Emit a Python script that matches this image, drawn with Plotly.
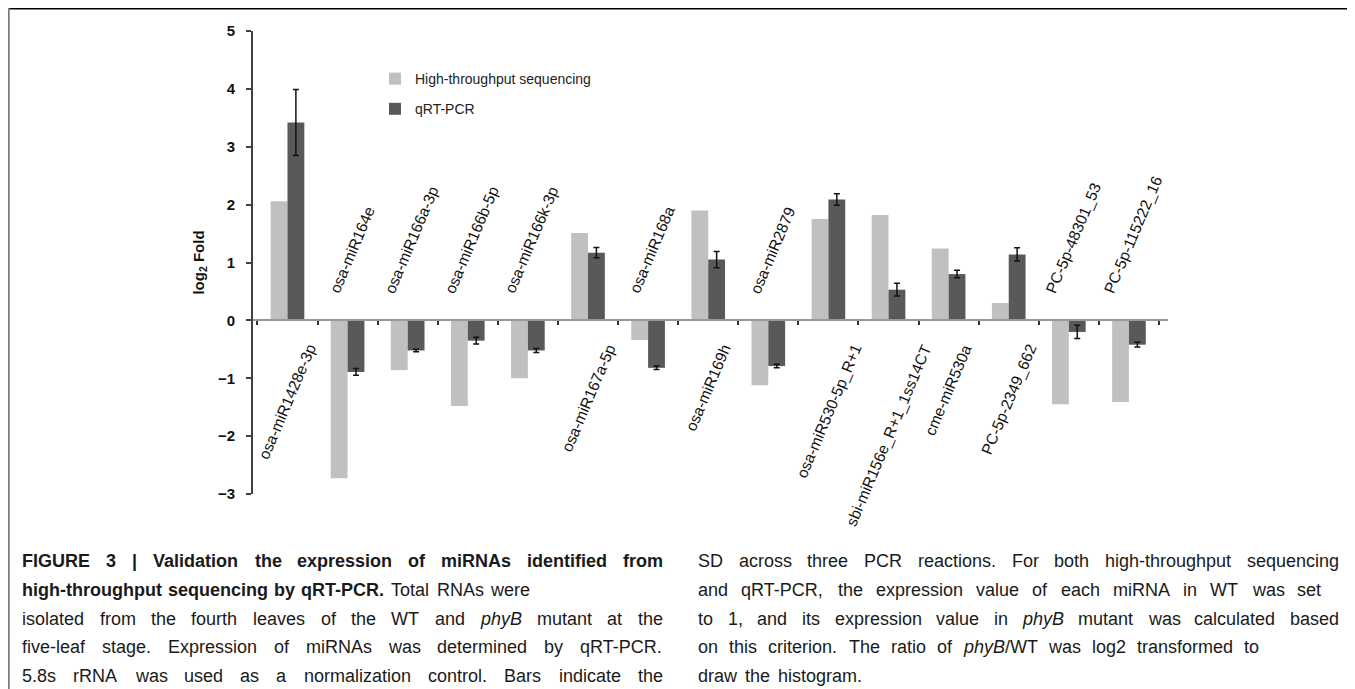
import plotly.graph_objects as go

categories = ["osa-miR1428e-3p", "osa-miR164e", "osa-miR166a-3p", "osa-miR166b-5p",
              "osa-miR166k-3p", "osa-miR167a-5p", "osa-miR168a", "osa-miR169h",
              "osa-miR2879", "osa-miR530-5p_R+1", "sbi-miR156e_R+1_1ss14CT",
              "cme-miR530a", "PC-5p-2349_662", "PC-5p-48301_53", "PC-5p-115222_16"]
hts_values = [2.06, -2.73, -0.86, -1.48, -1.00, 1.51, -0.34, 1.90, -1.12, 1.75, 1.82,
              1.24, 0.30, -1.45, -1.41]
qrt_values = [3.42, -0.89, -0.52, -0.35, -0.52, 1.17, -0.82, 1.05, -0.79, 2.09, 0.53,
              0.80, 1.14, -0.20, -0.42]
qrt_sd = [0.57, 0.06, 0.02, 0.06, 0.035, 0.09, 0.03, 0.14, 0.03, 0.10, 0.11, 0.065,
          0.115, 0.115, 0.04]
y_ticks = [-3, -2, -1, 0, 1, 2, 3, 4, 5]
series_names = ["High-throughput sequencing", "qRT-PCR"]

# page offset: browser body margin of 8px
OFF = 8
W, H = 1355 - OFF, 689 - OFF
L, R, T, B = 245, 187, 23, 195
PW, PH = W - L - R, H - T - B
Y0, Y1 = -3, 5


def px(x):
    return (x - OFF - L) / PW


def py(y):
    return (H - B - (y - OFF)) / PH


fig = go.Figure()
fig.add_trace(go.Bar(x=categories, y=hts_values, name=series_names[0], legendgroup="a",
                     marker=dict(color="#c0c0c0", line=dict(width=0))))
fig.add_trace(go.Bar(x=categories, y=qrt_values, name=series_names[1], legendgroup="b",
                     marker=dict(color="#595959", line=dict(width=0)),
                     error_y=dict(type="data", array=qrt_sd, color="#111111",
                                  thickness=1.5, width=3)))

label_font = dict(family="Liberation Sans, Arial", size=15.5, color="#111111")
for cat, h, q in zip(categories, hts_values, qrt_values):
    neg = max(h, q) <= 0
    if neg:
        fig.add_annotation(x=cat, y=0, xref="x", yref="y", text=cat, showarrow=False,
                           textangle=-67, yanchor="bottom", xanchor="center",
                           yshift=22, xshift=4, font=label_font)
    else:
        fig.add_annotation(x=cat, y=0, xref="x", yref="y", text=cat, showarrow=False,
                           textangle=-67, yanchor="top", xanchor="center",
                           yshift=-19, xshift=0, font=label_font)

zero_pos = (0 - Y0) / (Y1 - Y0)

fig.update_layout(
    width=W, height=H,
    margin=dict(l=L, r=R, t=T, b=B, pad=0),
    paper_bgcolor="white", plot_bgcolor="white",
    barmode="group", bargap=0.44, bargroupgap=0,
    showlegend=True,
    legend=dict(x=px(375), y=py(63), xanchor="left", yanchor="top",
                font=dict(family="Liberation Sans, Arial", size=14, color="#222222"),
                bgcolor="rgba(0,0,0,0)", tracegroupgap=9, traceorder="grouped"),
    xaxis=dict(type="category", showticklabels=False, showgrid=False, zeroline=False,
               showline=True, linecolor="#999999", linewidth=1.5,
               anchor="free", position=zero_pos,
               ticks="outside", tickson="boundaries", ticklen=4, tickcolor="#333333",
               tickwidth=1.5),
    yaxis=dict(range=[Y0, Y1], tickvals=y_ticks, showgrid=False, zeroline=False,
               showline=True, linecolor="#404040", linewidth=1.8,
               ticks="outside", ticklen=5, tickcolor="#404040", tickwidth=1.5,
               ticklabelstandoff=8,
               tickfont=dict(family="Liberation Sans, Arial", size=15, color="#111111",
                             weight="bold"),
               title=dict(text="<b>log<sub>2</sub> Fold</b>", standoff=10,
                          font=dict(family="Liberation Sans, Arial", size=15,
                                    color="#111111"))),
)

# frame lines (top and left)
fig.add_shape(type="line", xref="paper", yref="paper", x0=px(8), x1=px(1355 + 5),
              y0=py(8.8), y1=py(8.8), line=dict(color="#000000", width=1.6))
fig.add_shape(type="line", xref="paper", yref="paper", x0=px(8.8), x1=px(8.8),
              y0=py(8), y1=py(689), line=dict(color="#7a7a7a", width=1.8))

# ---- caption, justified word by word using Arial/Helvetica metrics ----
REG = {' ': 278, '!': 278, '"': 355, '#': 556, '$': 556, '%': 889, '&': 667, "'": 191,
       '(': 333, ')': 333, '*': 389, '+': 584, ',': 278, '-': 333, '.': 278, '/': 278,
       ':': 278, ';': 278, '<': 584, '=': 584, '>': 584, '?': 556, '@': 1015, '|': 260,
       '_': 556,
       'A': 667, 'B': 667, 'C': 722, 'D': 722, 'E': 667, 'F': 611, 'G': 778, 'H': 722,
       'I': 278, 'J': 500, 'K': 667, 'L': 556, 'M': 833, 'N': 722, 'O': 778, 'P': 667,
       'Q': 778, 'R': 722, 'S': 667, 'T': 611, 'U': 722, 'V': 667, 'W': 944, 'X': 667,
       'Y': 667, 'Z': 611,
       'a': 556, 'b': 556, 'c': 500, 'd': 556, 'e': 556, 'f': 278, 'g': 556, 'h': 556,
       'i': 222, 'j': 222, 'k': 500, 'l': 222, 'm': 833, 'n': 556, 'o': 556, 'p': 556,
       'q': 556, 'r': 333, 's': 500, 't': 278, 'u': 556, 'v': 500, 'w': 722, 'x': 500,
       'y': 500, 'z': 500}
BOLD = dict(REG)
BOLD.update({'!': 333, '|': 280, 'A': 722, 'B': 722, 'J': 556, 'K': 722, 'L': 611,
             'b': 611, 'c': 556, 'd': 611, 'f': 333, 'g': 611, 'h': 611, 'i': 278,
             'j': 278, 'k': 556, 'l': 278, 'm': 889, 'n': 611, 'o': 611, 'p': 611,
             'q': 611, 'r': 389, 's': 556, 't': 333, 'u': 611, 'v': 556, 'w': 778,
             'x': 556, 'y': 556})
for d in "0123456789":
    REG[d] = 556
    BOLD[d] = 556

CAP_SIZE = 18
cap_font = dict(family="Liberation Sans, Arial", size=CAP_SIZE, color="#1a1a1a")
SPACE = 278 * CAP_SIZE / 1000.0


def seg_width(text, style):
    table = BOLD if style == "b" else REG
    return sum(table.get(c, 556) for c in text) * CAP_SIZE / 1000.0


def words_of(segments):
    words, cur = [], []
    for text, style in segments:
        parts = text.split(" ")
        for k, p in enumerate(parts):
            if k > 0:
                if cur:
                    words.append(cur)
                cur = []
            if p:
                cur.append((p, style))
    if cur:
        words.append(cur)
    return words


def markup(word):
    out = ""
    for p, s in word:
        if s == "b":
            out += "<b>" + p + "</b>"
        elif s == "i":
            out += "<i>" + p + "</i>"
        else:
            out += p
    return out


left_lines = [
    [("FIGURE 3 | Validation the expression of miRNAs identified from", "b")],
    [("high-throughput sequencing by qRT-PCR.", "b"), (" Total RNAs were", "r")],
    [("isolated from the fourth leaves of the WT and ", "r"), ("phyB", "i"),
     (" mutant at the", "r")],
    [("five-leaf stage. Expression of miRNAs was determined by qRT-PCR.", "r")],
    [("5.8s rRNA was used as a normalization control. Bars indicate the", "r")],
]
right_lines = [
    [("SD across three PCR reactions. For both high-throughput sequencing", "r")],
    [("and qRT-PCR, the expression value of each miRNA in WT was set", "r")],
    [("to 1, and its expression value in ", "r"), ("phyB", "i"),
     (" mutant was calculated based", "r")],
    [("on this criterion. The ratio of ", "r"), ("phyB", "i"), ("/WT was log2 transformed to", "r")],
    [("draw the histogram.", "r")],
]
left_x0, right_x0 = 21, 697
left_ends = [662, 484, 662, 662, 662]
right_ends = [1338, 1320, 1338, 1258, None]
line_y = [561, 590, 618.5, 647, 676]


def place_line(segments, x0, x_end, yy):
    ws = words_of(segments)
    widths = [sum(seg_width(p, s) for p, s in w) for w in ws]
    gaps = len(ws) - 1
    if x_end is None or gaps == 0:
        gap = SPACE * 1.6
    else:
        gap = max((x_end - x0 - sum(widths)) / gaps, SPACE * 1.2)
    x = x0
    for w, wd in zip(ws, widths):
        fig.add_annotation(x=px(x), y=py(yy), xref="paper", yref="paper", text=markup(w),
                           showarrow=False, xanchor="left", yanchor="middle",
                           borderpad=0, font=cap_font)
        x += wd + gap


for seg, xe, yy in zip(left_lines, left_ends, line_y):
    place_line(seg, left_x0, xe, yy)
for seg, xe, yy in zip(right_lines, right_ends, line_y):
    place_line(seg, right_x0, xe, yy)

fig.write_html("out.html")
